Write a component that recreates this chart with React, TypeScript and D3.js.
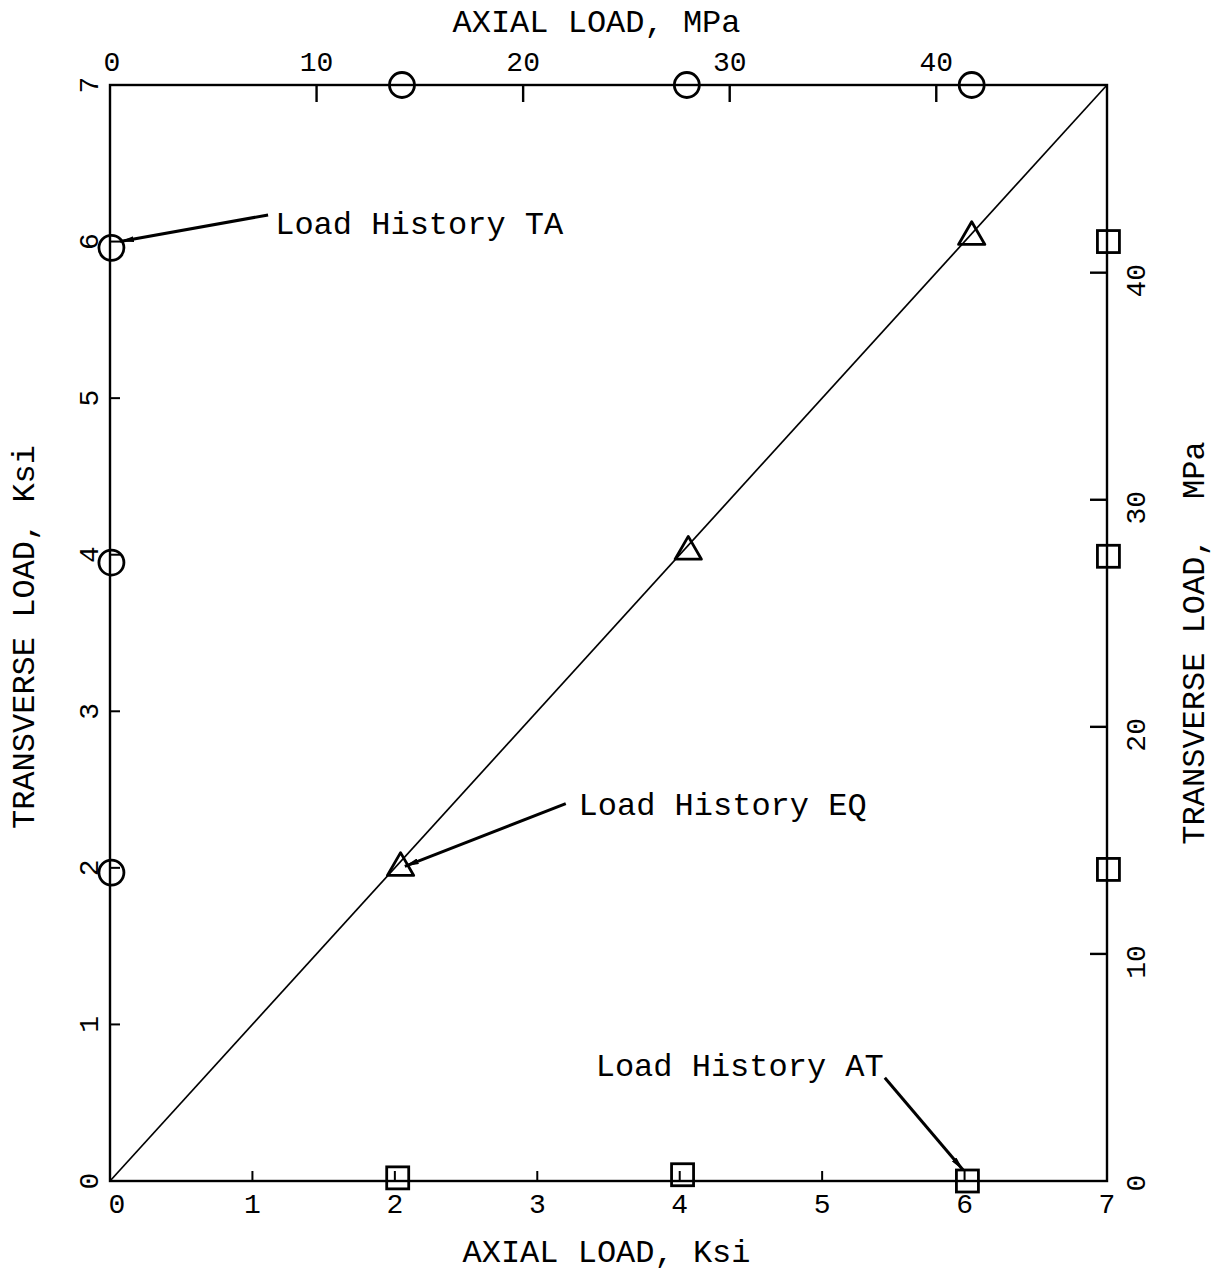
import React from "react";
import * as d3 from "d3";

// ---- data (ksi unless noted) ----
const ksiTicks = [0, 1, 2, 3, 4, 5, 6, 7];
const mpaTicks = [0, 10, 20, 30, 40];
const KSI_TO_MPA = 6.895;

// Load History TA (circles)
const taX = [0.01, 0.01, 0.01, 2.05, 4.05, 6.05];
const taY = [1.97, 3.95, 5.96, 7, 7, 7];
// Load History EQ (triangles)
const eqX = [2.04, 4.06, 6.05];
const eqY = [2.0, 4.02, 6.03];
// Load History AT (squares)
const atX = [2.02, 4.02, 6.02, 7.01, 7.01, 7.01];
const atY = [0.02, 0.04, 0.0, 1.99, 3.99, 6.0];
// diagonal path
const lineX = [0, 7];
const lineY = [0, 7];

// annotations (data units)
const annLabels = ["Load History TA", "Load History EQ", "Load History AT"];
const annTextX = [1.16, 3.29, 3.41];
const annTextY = [6.05, 2.34, 0.67];
const annFromX = [1.11, 3.2, 5.44];
const annFromY = [6.17, 2.41, 0.66];
const annToX = [0.07, 2.07, 5.99];
const annToY = [6.0, 2.01, 0.07];

const W = 1221;
const H = 1277;
const FONT = "'Liberation Mono', 'DejaVu Sans Mono', monospace";

export default function App() {
  const x = d3.scaleLinear().domain([0, 7]).range([110, 1107]);
  const y = d3.scaleLinear().domain([0, 7]).range([1181, 85]);
  const xM = d3.scaleLinear().domain([0, 7 * KSI_TO_MPA]).range([110, 1107]);
  const yM = d3.scaleLinear().domain([0, 7 * KSI_TO_MPA]).range([1181, 85]);

  const line = d3.line<number>().x((d, i) => x(lineX[i])).y((d, i) => y(lineY[i]));
  const tri = d3.symbol().type(d3.symbolTriangle).size(300);

  const [x0, x1] = x.range();
  const [y0, y1] = y.range();

  return (
    <svg width={W} height={H} style={{ position: "absolute", left: 0, top: 0, background: "#fff" }}>
      <defs>
        <marker id="ah" viewBox="0 0 14 6" refX="14" refY="3" markerWidth="14" markerHeight="6"
          markerUnits="userSpaceOnUse" orient="auto">
          <path d="M0,0 L14,3 L0,6 Z" fill="#000" />
        </marker>
      </defs>
      <g fill="none" stroke="#000">
        {/* frame */}
        <rect x={x0} y={y1} width={x1 - x0} height={y0 - y1} strokeWidth={2.4} />
        {/* diagonal */}
        <path d={line(lineX) || ""} strokeWidth={1.7} />
        {/* bottom ksi ticks (inward) */}
        {ksiTicks.slice(1, 7).map((t) => (
          <line key={"bt" + t} x1={x(t)} x2={x(t)} y1={y0} y2={y0 - 10} strokeWidth={2} />
        ))}
        {/* left ksi ticks */}
        {ksiTicks.slice(1, 7).map((t) => (
          <line key={"lt" + t} x1={x0} x2={x0 + 10} y1={y(t)} y2={y(t)} strokeWidth={2} />
        ))}
        {/* top MPa ticks */}
        {mpaTicks.slice(1).map((t) => (
          <line key={"tt" + t} x1={xM(t)} x2={xM(t)} y1={y1} y2={y1 + 17} strokeWidth={2.4} />
        ))}
        {/* right MPa ticks */}
        {mpaTicks.slice(1).map((t) => (
          <line key={"rt" + t} x1={x1} x2={x1 - 17} y1={yM(t)} y2={yM(t)} strokeWidth={2.4} />
        ))}
        {/* TA circles */}
        {taX.map((v, i) => (
          <circle key={"ta" + i} cx={x(v)} cy={y(taY[i])} r={12.5} strokeWidth={2.8} />
        ))}
        {/* EQ triangles */}
        {eqX.map((v, i) => (
          <path key={"eq" + i} d={tri() || ""} transform={`translate(${x(v)},${y(eqY[i])})`}
            strokeWidth={2.8} strokeLinejoin="round" />
        ))}
        {/* AT squares */}
        {atX.map((v, i) => (
          <rect key={"at" + i} x={x(v) - 11} y={y(atY[i]) - 11} width={22} height={22} strokeWidth={2.8} />
        ))}
        {/* annotation arrows */}
        {annLabels.map((l, i) => (
          <line key={"al" + i} x1={x(annFromX[i])} y1={y(annFromY[i])} x2={x(annToX[i])} y2={y(annToY[i])}
            strokeWidth={3} markerEnd="url(#ah)" />
        ))}
      </g>
      <g fill="#000" fontFamily={FONT} fontSize={28}>
        {/* bottom ksi labels */}
        {ksiTicks.map((t) => (
          <text key={"bl" + t} x={x(t) + (t === 0 ? 7 : 0)} y={y0 + 32} textAnchor="middle">{t}</text>
        ))}
        {/* left ksi labels (rotated) */}
        {ksiTicks.map((t) => (
          <text key={"ll" + t} transform={`translate(${x0 - 12},${y(t)}) rotate(-90)`} textAnchor="middle">{t}</text>
        ))}
        {/* top MPa labels */}
        {mpaTicks.map((t) => (
          <text key={"tl" + t} x={xM(t) + (t === 0 ? 2 : 0)} y={y1 - 14} textAnchor="middle">{t}</text>
        ))}
        {/* right MPa labels (rotated) */}
        {mpaTicks.map((t) => (
          <text key={"rl" + t} transform={`translate(${x1 + 38},${yM(t) + (t === 0 ? 2 : 8)}) rotate(-90)`}
            textAnchor="middle">{t}</text>
        ))}
      </g>
      <g fill="#000" fontFamily={FONT} fontSize={32}>
        <text x={(x0 + x1) / 2 - 12} y={32} textAnchor="middle">AXIAL LOAD, MPa</text>
        <text x={(x0 + x1) / 2 - 2} y={1262} textAnchor="middle">AXIAL LOAD, Ksi</text>
        <text transform={`translate(34,${637}) rotate(-90)`} textAnchor="middle" xmlSpace="preserve">TRANSVERSE LOAD, Ksi</text>
        <text transform={`translate(1204,${643}) rotate(-90)`} textAnchor="middle" xmlSpace="preserve">TRANSVERSE LOAD,  MPa</text>
        {annLabels.map((l, i) => (
          <text key={"at" + i} x={x(annTextX[i])} y={y(annTextY[i])}>{l}</text>
        ))}
      </g>
    </svg>
  );
}
